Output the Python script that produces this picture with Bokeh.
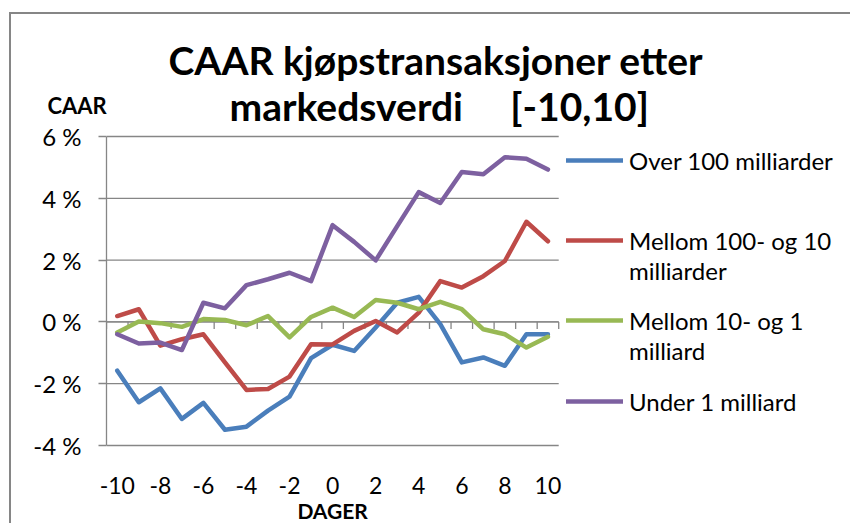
from bokeh.plotting import figure
from bokeh.models import (Range1d, FixedTicker, PrintfTickFormatter, Legend, LegendItem,
                          Title, LinearAxis)
from bokeh.embed import file_html
from bokeh.resources import INLINE

# ---------------- data ----------------
days = list(range(-10, 11))
over_100 = [-1.58, -2.60, -2.15, -3.14, -2.62, -3.49, -3.39, -2.87, -2.42, -1.17, -0.74,
            -0.94, -0.18, 0.62, 0.81, -0.07, -1.31, -1.15, -1.42, -0.40, -0.40]
mellom_100_10 = [0.19, 0.41, -0.77, -0.56, -0.40, -1.31, -2.20, -2.17, -1.77, -0.72, -0.73,
                 -0.29, 0.03, -0.34, 0.30, 1.32, 1.11, 1.48, 1.97, 3.24, 2.61]
mellom_10_1 = [-0.34, 0.01, -0.04, -0.16, 0.09, 0.06, -0.11, 0.19, -0.50, 0.16, 0.46,
               0.16, 0.71, 0.62, 0.41, 0.65, 0.41, -0.24, -0.40, -0.83, -0.48]
under_1 = [-0.40, -0.70, -0.67, -0.91, 0.62, 0.44, 1.19, 1.38, 1.59, 1.32, 3.13,
           2.59, 1.99, 3.10, 4.20, 3.85, 4.85, 4.78, 5.33, 5.28, 4.93]
series_names = ["Over 100 milliarder", "Mellom 100- og 10", "Mellom 10- og 1", "Under 1 milliard"]
second_lines = [None, "milliarder", "milliard", None]
colors = ["#4A7EBB", "#BE4B48", "#98B954", "#7D60A0"]
y_ticks = [-4, -2, 0, 2, 4, 6]
x_ticks = [-10, -8, -6, -4, -2, 0, 2, 4, 6, 8, 10]
title_1 = "CAAR kjøpstransaksjoner etter"
title_2 = "markedsverdi\u00a0\u00a0\u00a0\u00a0\u00a0[-10,10]"
y_title = "CAAR"
x_title = "DAGER"

# ---------------- layout (page pixels) ----------------
FONT = "Lato"
GRID = "#868686"
MARGIN_L, MARGIN_T, BORDER = 9, 12, 2
ORG_X, ORG_Y = MARGIN_L + BORDER, MARGIN_T + BORDER   # canvas origin on the page
W, H = 839, 509                  # canvas size
PLOT_LEFT, PLOT_W = 106, 451     # where -10.5 .. 10.5 lies
Y_TOP, Y_BOT = 136, 445          # where 6 % and -4 % lie
PAD = 2                          # a little room so edge grid lines are not clipped

px_per_day = PLOT_W / (len(days))
px_per_pct = (Y_BOT - Y_TOP) / (y_ticks[-1] - y_ticks[0])
x_start = days[0] - 0.5
x_data_end = days[-1] + 0.5
frame_left_c = PLOT_LEFT - ORG_X
frame_w = W - frame_left_c
x_end = x_start + frame_w / px_per_day
y_lo = y_ticks[0] - PAD / px_per_pct
y_hi = y_ticks[-1] + PAD / px_per_pct
frame_top_page = Y_TOP - PAD
frame_top_c = frame_top_page - ORG_Y
frame_bot_page = Y_BOT + PAD
frame_bot_c = frame_bot_page - ORG_Y

p = figure(width=W, height=H, output_backend="svg", toolbar_location=None,
           x_range=Range1d(x_start, x_end), y_range=Range1d(y_lo, y_hi),
           min_border_left=frame_left_c, min_border_right=0, min_border_top=frame_top_c,
           min_border_bottom=H - frame_bot_c)
p.styles = {"margin-left": f"{MARGIN_L}px", "margin-top": f"{MARGIN_T}px",
            "border-left": f"{BORDER}px solid {GRID}", "border-top": f"{BORDER}px solid {GRID}",
            "box-sizing": "content-box"}
p.outline_line_color = None
p.background_fill_color = "white"
p.border_fill_color = "white"
p.xgrid.visible = False
p.ygrid.visible = False

# horizontal grid lines across the day range only
p.segment(x0=[x_start] * len(y_ticks), y0=y_ticks, x1=[x_data_end] * len(y_ticks), y1=y_ticks,
          line_color=GRID, line_width=1.3)

# y axis
ya = p.yaxis[0]
ya.ticker = FixedTicker(ticks=y_ticks)
ya.bounds = (y_ticks[0], y_ticks[-1])
ya.formatter = PrintfTickFormatter(format="%d %%")
ya.axis_line_color = GRID
ya.axis_line_width = 1.3
ya.major_tick_line_color = GRID
ya.major_tick_line_width = 1.3
ya.major_tick_out = 8
ya.major_tick_in = 0
ya.minor_tick_line_color = None
ya.major_label_text_font = FONT
ya.major_label_text_font_size = "24px"
ya.major_label_text_color = "black"
ya.major_label_standoff = 17

# x axis: labels only, at the bottom
xa = p.xaxis[0]
xa.ticker = FixedTicker(ticks=x_ticks)
xa.formatter = PrintfTickFormatter(format="%d")
xa.axis_line_color = None
xa.major_tick_line_color = None
xa.minor_tick_line_color = None
xa.major_tick_out = 0
xa.major_tick_in = 0
xa.minor_tick_out = 0
xa.minor_tick_in = 0
xa.major_label_text_font = FONT
xa.major_label_text_font_size = "23px"
xa.major_label_text_color = "black"
xa.major_label_standoff = 29

# axis title "DAGER" centred under day 0
xt = LinearAxis(ticker=FixedTicker(ticks=[0]), major_label_overrides={0: x_title},
                axis_line_color=None, major_tick_line_color=None, minor_tick_line_color=None,
                major_tick_out=0, major_tick_in=0, minor_tick_out=0, minor_tick_in=0,
                major_label_standoff=1, major_label_text_font=FONT,
                major_label_text_font_size="21px", major_label_text_font_style="bold",
                major_label_text_color="black")
p.add_layout(xt, "below")

# horizontal axis crossing at zero, tick marks between days
bounds = [d - 0.5 for d in days] + [days[-1] + 0.5]
tick_len = 7 / px_per_pct
p.segment(x0=[x_start], y0=[0], x1=[x_data_end], y1=[0], line_color=GRID, line_width=1.3)
p.segment(x0=bounds, y0=[0] * len(bounds), x1=bounds, y1=[-tick_len] * len(bounds),
          line_color=GRID, line_width=1.3)

# series
renderers = []
for vals, c in zip([over_100, mellom_100_10, mellom_10_1, under_1], colors):
    r = p.line(days, vals, line_color=c, line_width=4.5, line_join="round", line_cap="round")
    renderers.append(r)
dummy = p.line(x=[], y=[], line_alpha=0)

# legend entries (page y of each entry's line)
item_h = 30
entry_y = [160, 240, 320, 401]
for name, second, r, ly in zip(series_names, second_lines, renderers, entry_y):
    items = [LegendItem(label=name, renderers=[r])]
    if second:
        items.append(LegendItem(label=second, renderers=[dummy]))
    n = len(items)
    top = ly - item_h / 2
    vy = frame_bot_page - top - n * item_h
    lg = Legend(items=items, location=(566 - PLOT_LEFT, vy), orientation="vertical",
                padding=0, margin=0, spacing=0, border_line_color=None,
                background_fill_alpha=0, glyph_width=57, glyph_height=item_h,
                label_standoff=6, label_height=item_h,
                label_text_font=FONT, label_text_font_size="24px", label_text_color="black")
    p.add_layout(lg, "center")

# titles (nearest the plot first)
t2 = Title(text=title_2, align="left", offset=123, vertical_align="bottom",
           text_font=FONT, text_font_size="39px", text_font_style="bold",
           text_color="black", standoff=11)
t1 = Title(text=title_1, align="left", offset=62, vertical_align="bottom",
           text_font=FONT, text_font_size="39px", text_font_style="bold",
           text_color="black", standoff=-15)
tc = Title(text=y_title, align="left", offset=-59, vertical_align="bottom",
           text_font=FONT, text_font_size="22px", text_font_style="bold",
           text_color="black", standoff=-153)
p.add_layout(t2, "above")
p.add_layout(t1, "above")
p.add_layout(tc, "above")

open("out.html", "w").write(file_html(p, INLINE))
